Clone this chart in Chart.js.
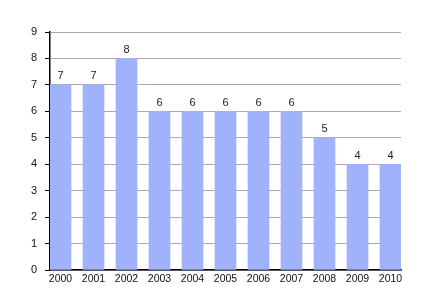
<!DOCTYPE html>
<html>
<head>
<meta charset="utf-8">
<script src="https://cdn.jsdelivr.net/npm/chart.js@4"></script>
<style>
  html, body { margin: 0; padding: 0; background: #fff; }
  #wrap { width: 430px; height: 300px; }
</style>
</head>
<body>
<div id="wrap"><canvas id="chart" width="430" height="300"></canvas></div>
<script>
const years = ["2000", "2001", "2002", "2003", "2004", "2005", "2006", "2007", "2008", "2009", "2010"];
const values = [7, 7, 8, 6, 6, 6, 6, 6, 5, 4, 4];

// numbers above each bar
const barLabels = {
  id: "barLabels",
  afterDatasetsDraw(chart) {
    const ctx = chart.ctx;
    ctx.save();
    ctx.font = "11px 'Liberation Sans', Arial, sans-serif";
    ctx.fillStyle = "#222";
    ctx.textAlign = "center";
    ctx.textBaseline = "bottom";
    chart.getDatasetMeta(0).data.forEach((bar, i) => {
      ctx.fillText(values[i], bar.x, bar.y - 3);
    });
    ctx.restore();
  }
};

new Chart(document.getElementById("chart"), {
  type: "bar",
  data: {
    datasets: [{
      data: values.map((v, i) => ({ x: i, y: v })),
      backgroundColor: "#a0b2fb",
      borderWidth: 0,
      barThickness: 21
    }]
  },
  options: {
    responsive: false,
    animation: false,
    events: [],
    layout: { padding: { left: 0, top: 32, right: 29, bottom: 0 } },
    plugins: { legend: { display: false }, tooltip: { enabled: false } },
    scales: {
      x: {
        type: "linear",
        offset: false,
        min: -0.318,
        max: 10.318,
        afterBuildTicks: (s) => { s.ticks = years.map((_, i) => ({ value: i })); },
        afterFit: (s) => { s.height = 30; },
        grid: { display: false, drawTicks: false, tickLength: 0 },
        border: { display: true, color: "#000", width: 1.5 },
        ticks: {
          callback: (v) => years[v],
          color: "#111",
          padding: 3,
          maxRotation: 0,
          autoSkip: false,
          font: { family: "'Liberation Sans', Arial, sans-serif", size: 10.5 }
        }
      },
      y: {
        min: 0,
        max: 9,
        afterFit: (s) => { s.width = 50; },
        grid: { color: "#aaa", lineWidth: 1, tickColor: "#000", tickLength: 5 },
        border: { display: true, color: "#000", width: 1.5 },
        ticks: {
          stepSize: 1,
          color: "#111",
          padding: 8,
          font: { family: "'Liberation Sans', Arial, sans-serif", size: 11 }
        }
      }
    }
  },
  plugins: [barLabels]
});
</script>
</body>
</html>
